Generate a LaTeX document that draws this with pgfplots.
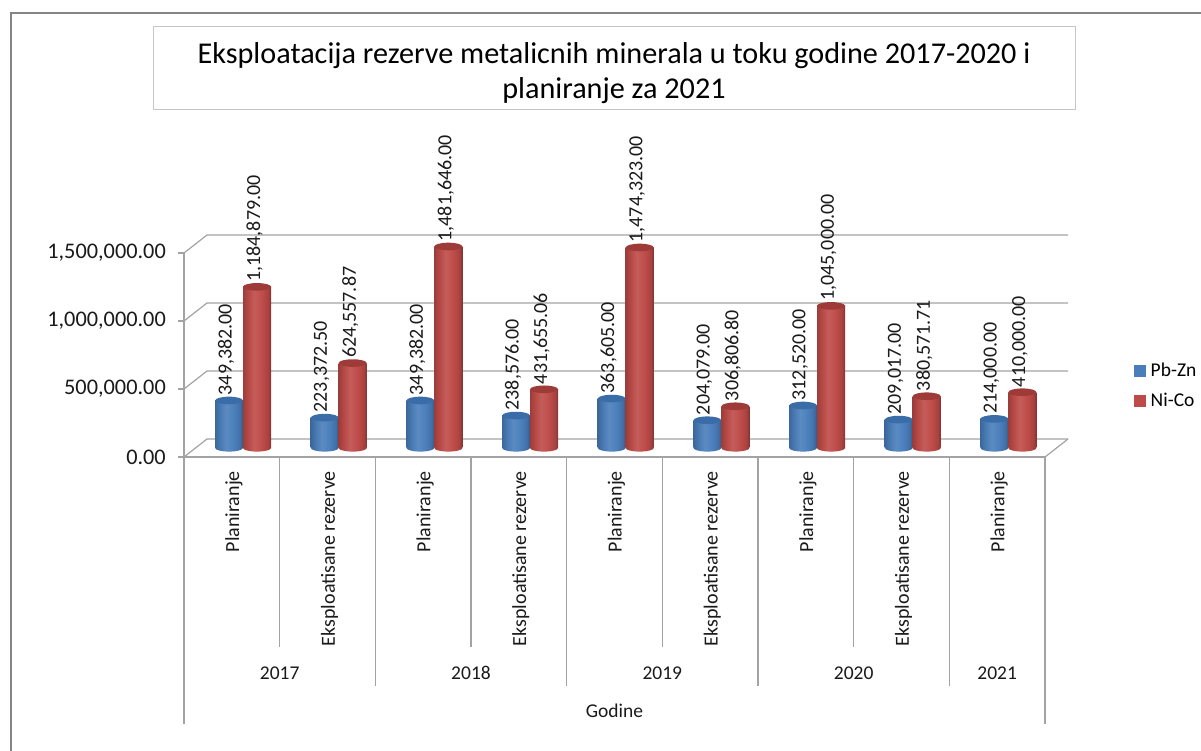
\documentclass[border=0pt]{standalone}
\usepackage{fontspec}
\setmainfont{Carlito}
\usepackage{pgfplots}
\pgfplotsset{compat=1.18}
\definecolor{gridc}{HTML}{A3A3A3}
\definecolor{framec}{HTML}{858585}
\definecolor{titleb}{HTML}{C6C6C6}
\definecolor{txt}{HTML}{1A1A1A}
\definecolor{legB}{HTML}{4A7EBB}
\definecolor{legR}{HTML}{BE4B48}
\definecolor{topB}{HTML}{3A6CA8}
\definecolor{topR}{HTML}{9E3B39}
\pgfdeclarehorizontalshading{cylB}{100bp}{color(0bp)=(legB!70!black);color(25bp)=(legB!82!black);color(33bp)=(legB!95!black);color(45bp)=(legB!90!white);color(60bp)=(legB);color(70bp)=(legB!88!black);color(75bp)=(legB!68!black);color(100bp)=(legB!68!black)}
\pgfdeclarehorizontalshading{cylR}{100bp}{color(0bp)=(legR!70!black);color(25bp)=(legR!82!black);color(33bp)=(legR!95!black);color(45bp)=(legR!90!white);color(60bp)=(legR);color(70bp)=(legR!88!black);color(75bp)=(legR!68!black);color(100bp)=(legR!68!black)}
\pgfdeclareplotmark{capB}{\path[draw=none,fill=topB,rotate=5] (0,0) ellipse (13.8pt and 3.8pt);}
\pgfdeclareplotmark{capR}{\path[draw=none,fill=topR,rotate=5] (0,0) ellipse (14pt and 3.8pt);}
\pgfdeclareplotmark{baseB}{\path[draw=none,shading=cylB,rotate=5] (0,0) ellipse (13.8pt and 3.6pt);}
\pgfdeclareplotmark{baseR}{\path[draw=none,shading=cylR,rotate=5] (0,0) ellipse (14pt and 3.6pt);}
\pgfplotsset{
  base/.style={scale only axis, width=861pt, height=204pt, xmin=0, xmax=9, ymin=0, ymax=1500000, clip=false, scaled y ticks=false},
  lab/.style={nodes near coords={\pgfmathprintnumber[assume math mode=true,fixed,fixed zerofill,precision=2,1000 sep={,}]{\pgfplotspointmeta}},
    nodes near coords style={xshift=#1,yshift=5pt,rotate=90,anchor=west,inner sep=0pt,font=\fontsize{20}{20}\selectfont,text=txt}},
}
% one cylinder: #1 position, #2 value, #3 shift in pt, #4 shift in category units, #5 B or R, #6 label shift
\newcommand{\cyl}[6]{%
\addplot[only marks,mark=base#5,forget plot] coordinates {(#1#4,0)};
\addplot[ybar,bar width=28pt,bar shift=#3pt,draw=none,shading=cyl#5,forget plot,lab=#6pt] coordinates {(#1,#2)};
\addplot[only marks,mark=cap#5,forget plot] coordinates {(#1#4,#2)};
}
\begin{document}
\begin{tikzpicture}[x=1pt,y=1pt]
\path[use as bounding box,fill=white] (0,0) rectangle (1201,751);
\draw[framec,line width=1.2pt] (11,0) -- (11,738) -- (1201,738);
% back wall
\begin{axis}[base, at={(207pt,312pt)}, anchor=south west, axis lines=none]
\addplot[draw=none,forget plot] coordinates {(0,0) (9,1500000)};
\foreach \v in {0,500000,1000000,1500000}{
  \edef\tmp{\noexpand\draw[gridc,line width=1.2pt] (axis cs:9,\v) -- (axis cs:0,\v) -- ++(-23pt,-18pt);}\tmp
}
\draw[gridc,line width=1.2pt] (axis cs:9,0) -- ++(-23pt,-18pt);
\end{axis}
% bars
\begin{axis}[base, at={(195.2pt,303pt)}, anchor=south west, axis lines=none,
  legend style={at={(1.0905,0.305)},anchor=west,draw=none,fill=none,font=\fontsize{19.5}{19.5}\selectfont,row sep=11pt,inner sep=0pt},
  legend cell align=left]
\addlegendimage{legend image code/.code={\fill[legB] (0pt,-5.5pt) rectangle (11pt,5.5pt);\path (14pt,0pt);}}
\addlegendentry{Pb-Zn}
\addlegendimage{legend image code/.code={\fill[legR] (0pt,-5.5pt) rectangle (11pt,5.5pt);\path (14pt,0pt);}}
\addlegendentry{Ni-Co}
\cyl{0.5}{349382}{-14}{-0.1463}{B}{-17}
\cyl{1.5}{223372.5}{-14}{-0.1463}{B}{-17}
\cyl{2.5}{349382}{-14}{-0.1463}{B}{-17}
\cyl{3.5}{238576}{-14}{-0.1463}{B}{-17}
\cyl{4.5}{363605}{-14}{-0.1463}{B}{-17}
\cyl{5.5}{204079}{-14}{-0.1463}{B}{-17}
\cyl{6.5}{312520}{-14}{-0.1463}{B}{-17}
\cyl{7.5}{209017}{-14}{-0.1463}{B}{-17}
\cyl{8.5}{214000}{-14}{-0.1463}{B}{-17}
\cyl{0.5}{1184879}{14}{+0.1463}{R}{11.5}
\cyl{1.5}{624557.87}{14}{+0.1463}{R}{11.5}
\cyl{2.5}{1481646}{14}{+0.1463}{R}{11.5}
\cyl{3.5}{431655.06}{14}{+0.1463}{R}{11.5}
\cyl{4.5}{1474323}{14}{+0.1463}{R}{11.5}
\cyl{5.5}{306806.8}{14}{+0.1463}{R}{11.5}
\cyl{6.5}{1045000}{14}{+0.1463}{R}{11.5}
\cyl{7.5}{380571.71}{14}{+0.1463}{R}{11.5}
\cyl{8.5}{410000}{14}{+0.1463}{R}{11.5}
\end{axis}
% front axis and labels
\begin{axis}[base, at={(184pt,294pt)}, anchor=south west,
  axis x line*=bottom, axis y line*=left,
  axis line style={gridc,line width=1.2pt,-},
  tick align=outside, major tick length=6pt,
  ytick={0,500000,1000000,1500000},
  y tick style={gridc,line width=1.2pt},
  x tick style={draw=none},
  tick label style={text=txt},
  yticklabel style={font=\fontsize{22.3}{22.3}\selectfont,inner sep=0pt,xshift=-12pt,/pgf/number format/assume math mode=true,/pgf/number format/.cd,fixed,fixed zerofill,precision=2,1000 sep={,}},
  xtick={0.5,2.5,4.5,6.5,8.5},
  xticklabels={Planiranje,Planiranje,Planiranje,Planiranje,Planiranje},
  extra x ticks={1.5,3.5,5.5,7.5},
  extra x tick labels={Eksploatisane rezerve,Eksploatisane rezerve,Eksploatisane rezerve,Eksploatisane rezerve},
  extra x tick style={x tick style={draw=none}},
  xticklabel style={font=\fontsize{20}{20}\selectfont,xshift=2pt,yshift=-8pt,rotate=90,anchor=east,inner sep=0pt},
]
\addplot[draw=none,forget plot] coordinates {(0,0) (9,1500000)};
\foreach \xx/\yy in {0/267,1/190,2/229,3/190,4/229,5/190,6/229,7/190,8/229,9/267}{
  \edef\tmp{\noexpand\draw[gridc,line width=1.2pt] (axis cs:\xx,0) -- ++(0pt,-\yy pt);}\tmp
}
\foreach \xx/\yr in {1/2017,3/2018,5/2019,7/2020,8.5/2021}{
  \edef\tmp{\noexpand\node[font=\noexpand\fontsize{19.5}{19.5}\noexpand\selectfont,text=txt] at (axis cs:\xx,0) [yshift=-216pt] {\yr};}\tmp
}
\node[font=\fontsize{19.5}{19.5}\selectfont,text=txt] at (axis cs:4.5,0) [yshift=-254pt] {Godine};
\end{axis}
\draw[titleb,line width=1pt,fill=white] (153,724) rectangle (1075,641);
\node[inner sep=0pt,align=center,font=\fontsize{30.2}{35}\selectfont,text=black] at (614,678) {Eksploatacija rezerve metalicnih minerala u toku godine 2017-2020 i\\planiranje za 2021};
\end{tikzpicture}
\end{document}
